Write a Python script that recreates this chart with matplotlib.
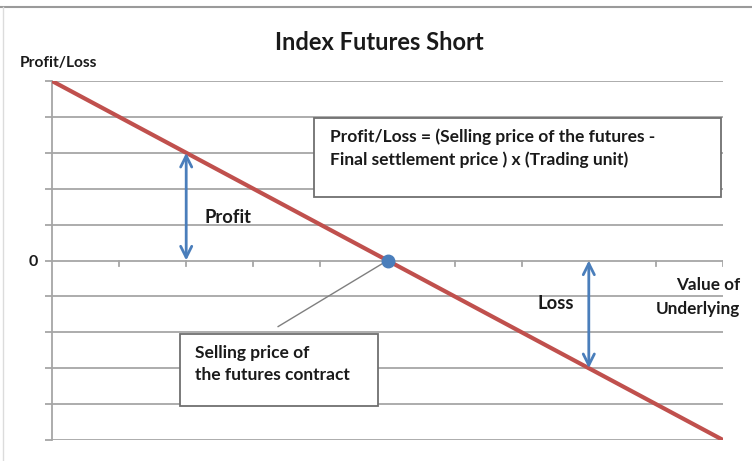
import matplotlib
matplotlib.use("Agg")
import matplotlib.pyplot as plt
from matplotlib.patches import Rectangle
import numpy as np

# payoff of a short futures position (grid units)
underlying = [0, 10]
payoff = [5, -5]
grid_levels = list(range(-5, 6))
x_ticks = list(range(0, 11))
sell_price = (5, 0)
profit_arrow = (2, 0, 3)   # x, from, to
loss_arrow = (8, 0, -3)

title = "Index Futures Short"
y_label = "Profit/Loss"
x_label = "Value of\nUnderlying"
formula = "Profit/Loss = (Selling price of the futures -\nFinal settlement price ) x (Trading unit)"
callout = "Selling price of\nthe futures contract"

RED = "#c0504d"
BLUE = "#4a7ebb"
GRID = "#a6a6a6"
TXT = "#1a1a1a"

plt.rcParams['font.family'] = ['Lato', 'DejaVu Sans']

fig = plt.figure(figsize=(7.52, 4.61), dpi=100)
W, H = 752, 461
ax = fig.add_axes([52 / W, 1 - 440 / H, (723 - 52) / W, (440 - 81) / H])
ax.set_xlim(0, 10)
ax.set_ylim(-5, 5)
ax.patch.set_visible(False)

for g in grid_levels:
    ax.axhline(g, color=GRID, lw=1.3, zorder=1)

for s in ["top", "right", "bottom"]:
    ax.spines[s].set_visible(False)
ax.spines["left"].set_color(GRID)
ax.spines["left"].set_linewidth(1.3)

ax.set_yticks(grid_levels)
ax.set_yticklabels(["0" if g == 0 else "" for g in grid_levels],
                   fontsize=11.5, fontweight="bold", color=TXT)
ax.tick_params(axis="y", length=5.25, width=1.3, color=GRID, pad=5)

# x ticks hang below the zero line
for xt in x_ticks[1:]:
    ax.plot([xt, xt], [0, -0.14], color=GRID, lw=1.3, zorder=1)
ax.set_xticks([])

ax.plot(underlying, payoff, color=RED, lw=3, zorder=4, solid_capstyle="butt")
ax.plot(*sell_price, "o", color=BLUE, ms=9, zorder=5)

# leader line to the callout box
ax.plot([sell_price[0], 3.37], [sell_price[1], -1.84], color="#7f7f7f", lw=1, zorder=3)

arrow_kw = dict(arrowstyle="<->", color=BLUE, lw=2, mutation_scale=20, shrinkA=0, shrinkB=0)
ax.annotate("", xy=(profit_arrow[0], profit_arrow[2]), xytext=(profit_arrow[0], profit_arrow[1]),
            arrowprops=arrow_kw, zorder=6)
ax.annotate("", xy=(loss_arrow[0], loss_arrow[2]), xytext=(loss_arrow[0], loss_arrow[1]),
            arrowprops=arrow_kw, zorder=6)

ax.text(2.28, 1.2, "Profit", fontsize=13.2, fontweight="bold", color=TXT, va="center")
ax.text(7.23, -1.2, "Loss", fontsize=13.2, fontweight="bold", color=TXT, va="center")

# formula box
ax.add_patch(Rectangle((3.90, 1.78), 6.07, 2.20, facecolor="white", edgecolor="#6f6f6f",
                       lw=1.3, zorder=7))
ax.text(4.14, 3.12, formula, fontsize=12.5, fontweight="bold", color=TXT,
        va="center", ha="left", linespacing=1.45, zorder=8)

# callout box
ax.add_patch(Rectangle((1.91, -4.05), 2.95, 1.99, facecolor="white", edgecolor="#6f6f6f",
                       lw=1.3, zorder=7))
ax.text(2.13, -2.88, callout, fontsize=12.5, fontweight="bold", color=TXT,
        va="center", ha="left", linespacing=1.5, zorder=8)

fig.text(379 / W, 1 - 42 / H, title, fontsize=17, fontweight="bold", color=TXT,
         ha="center", va="center")
fig.text(20 / W, 1 - 63 / H, y_label, fontsize=11.2, fontweight="bold", color=TXT,
         ha="left", va="center")
fig.text(740 / W, 1 - 297 / H, x_label, fontsize=12.3, fontweight="bold", color=TXT,
         ha="right", va="center", linespacing=1.6)

# frame edges of the original picture
fig.add_artist(plt.Line2D([0, 1], [1 - 7 / H, 1 - 7 / H], color="#9a9a9a", lw=1.5))
fig.add_artist(plt.Line2D([3 / W, 3 / W], [0, 1 - 7 / H], color="#dcdcdc", lw=1))

fig.savefig("out.png", dpi=100)
